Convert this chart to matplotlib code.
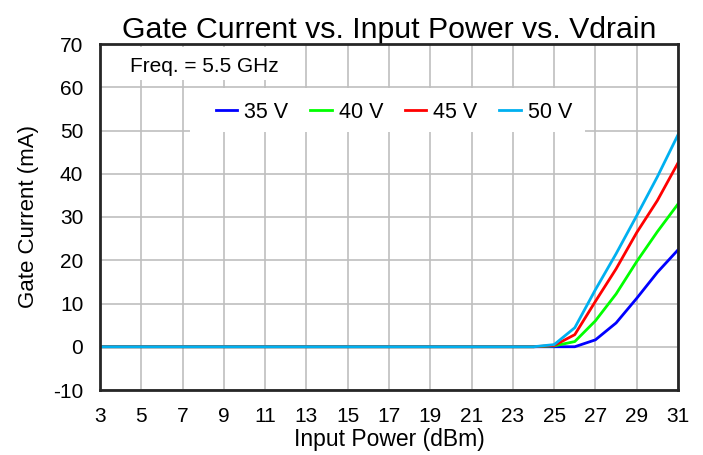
import matplotlib
matplotlib.use("Agg")
import matplotlib.pyplot as plt
from matplotlib.patches import Rectangle

plt.rcParams['font.family'] = ['Liberation Sans', 'DejaVu Sans']
plt.rcParams['axes.unicode_minus'] = False

power = list(range(3, 32))
zeros = [0.0] * 21  # 3..23
i35 = zeros + [0.0, 0.0, 0.0, 1.6, 5.5, 11.2, 17.2, 22.4]
i40 = zeros + [0.0, 0.2, 1.2, 6.0, 12.2, 19.7, 26.6, 33.0]
i45 = zeros + [0.0, 0.3, 2.8, 10.5, 18.0, 26.4, 33.8, 42.5]
i50 = zeros + [0.0, 0.5, 4.4, 13.2, 21.5, 30.3, 39.3, 49.0]
labels = ['35 V', '40 V', '45 V', '50 V']
colors = ['#0000ff', '#00ff00', '#ff0000', '#00b0f0']

W, H = 703, 455
fig = plt.figure(figsize=(W/100, H/100), dpi=100)
L, R, T, B = 100, 678, 44, 390
ax = fig.add_axes([L/W, 1-B/H, (R-L)/W, (B-T)/H])

def ax_x(px):
    return (px - L) / (R - L)

def ax_y(py):
    return (B - py) / (B - T)

for ys, lab, c in zip([i35, i40, i45, i50], labels, colors):
    ax.plot(power, ys, color=c, lw=2.0, label=lab, zorder=3)

ax.set_xlim(3, 31)
ax.set_ylim(-10, 70)
ax.set_xticks(range(3, 32, 2))
ax.set_yticks(range(-10, 71, 10))
ax.grid(True, color='#bfbfbf', lw=1.2, zorder=0)
ax.set_axisbelow(True)
for s in ax.spines.values():
    s.set_linewidth(2.0)
    s.set_color('#262626')
    s.set_zorder(5)
ax.tick_params(axis='both', labelsize=15, length=0)
ax.tick_params(axis='x', pad=12)
ax.tick_params(axis='y', pad=12)

ax.set_title('Gate Current vs. Input Power vs. Vdrain', fontsize=21.8, pad=3)
ax.set_xlabel('Input Power (dBm)', fontsize=16.5, labelpad=2)
ax.set_ylabel('Gate Current (mA)', fontsize=16, labelpad=10)

# white background boxes for annotation and legend
ax.add_patch(Rectangle((ax_x(101), ax_y(80)), ax_x(290) - ax_x(101), ax_y(47) - ax_y(80),
                       transform=ax.transAxes, facecolor='white', edgecolor='none', zorder=1))
ax.add_patch(Rectangle((ax_x(190), ax_y(132)), ax_x(585) - ax_x(190), ax_y(88) - ax_y(132),
                       transform=ax.transAxes, facecolor='white', edgecolor='none', zorder=1))

ax.text(ax_x(130), ax_y(66), 'Freq. = 5.5 GHz', transform=ax.transAxes, fontsize=15,
        va='center', ha='left', zorder=4)

leg = ax.legend(loc='center', bbox_to_anchor=(ax_x(394), ax_y(112)), ncol=4,
                frameon=False, fontsize=15.5, handlelength=1.0, columnspacing=1.0,
                borderpad=0.2, handletextpad=0.33)
leg.set_zorder(4)

fig.savefig('out.png', dpi=100)
